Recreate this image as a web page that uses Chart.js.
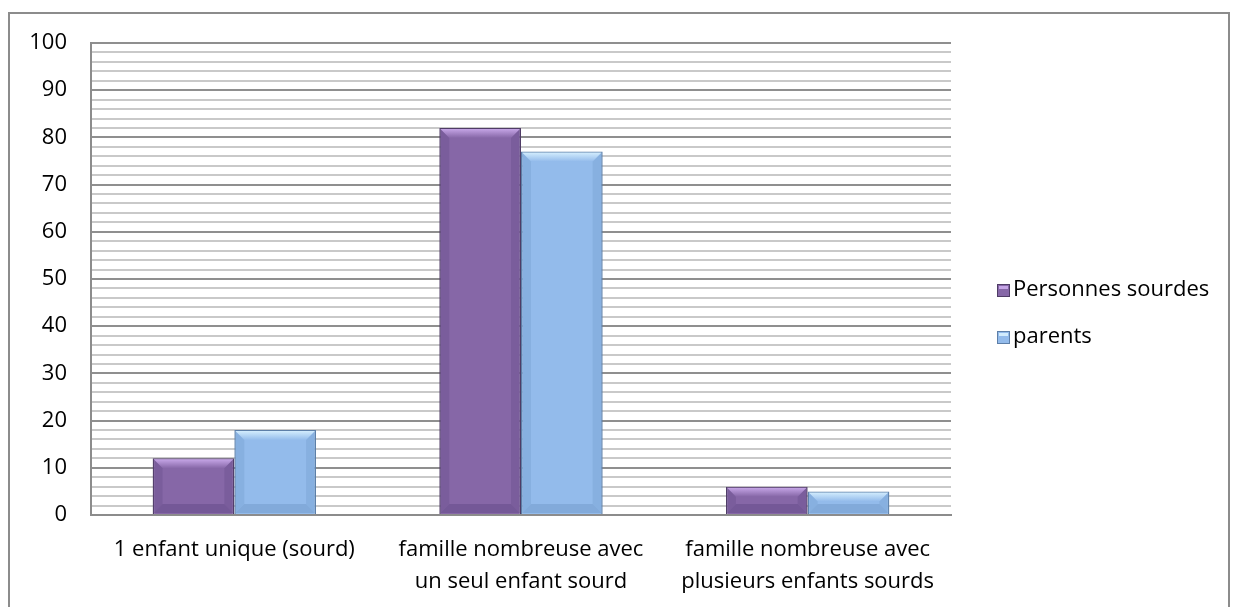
<!DOCTYPE html>
<html>
<head>
<meta charset="utf-8">
<script src="https://cdn.jsdelivr.net/npm/chart.js@4/dist/chart.umd.min.js"></script>
<style>
  html, body { margin: 0; padding: 0; background: #fff; }
  #wrap { position: relative; width: 1234px; height: 607px; overflow: hidden; }
  #frame { position: absolute; left: 8px; top: 12px; width: 1222px; height: 620px;
           border: 2px solid #8c8c8c; box-sizing: border-box; pointer-events: none; }
  canvas { position: absolute; left: 0; top: 0; }
</style>
</head>
<body>
<div id="wrap">
  <div id="frame"></div>
  <canvas id="chart" width="1234" height="607"></canvas>
</div>
<script>
// data
var categories = [
  '1 enfant unique (sourd)',
  ['famille nombreuse avec', 'un seul enfant sourd'],
  ['famille nombreuse avec', 'plusieurs enfants sourds']
];
var seriesNames = ['Personnes sourdes', 'parents'];
var sourdes = [12, 82, 6];
var parents = [18, 77, 5];
var yTicks = [0, 10, 20, 30, 40, 50, 60, 70, 80, 90, 100];

var fontFamily = '"Open Sans", "Noto Sans", sans-serif';
var fontSize = 22;
var fills = ['#8667a7', '#93bbeb'];
var edges = ['#4f3c66', '#5d7fa8'];
var lights = ['#c5a5e6', '#d2ecfd'];
var darks = ['#6c5290', '#7ba3d3'];

// fake the Excel bevel on each bar
var bevelPlugin = {
  id: 'bevel',
  afterDatasetsDraw: function(chart) {
    var ctx = chart.ctx;
    chart.data.datasets.forEach(function(ds, i) {
      var meta = chart.getDatasetMeta(i);
      meta.data.forEach(function(el) {
        var p = el.getProps(['x', 'y', 'base', 'width'], true);
        var l = p.x - p.width / 2 + 1, r = p.x + p.width / 2 - 1;
        var t = p.y + 1, b = p.base - 1;
        var s = Math.min(9, (b - t) / 2);
        ctx.save();
        // top
        var g = ctx.createLinearGradient(0, t, 0, t + s);
        g.addColorStop(0, lights[i]);
        g.addColorStop(1, fills[i]);
        ctx.fillStyle = g;
        ctx.beginPath();
        ctx.moveTo(l, t); ctx.lineTo(r, t); ctx.lineTo(r - s, t + s); ctx.lineTo(l + s, t + s);
        ctx.closePath(); ctx.fill();
        // sides
        ctx.fillStyle = darks[i];
        ctx.globalAlpha = 0.45;
        ctx.beginPath();
        ctx.moveTo(l, t); ctx.lineTo(l + s, t + s); ctx.lineTo(l + s, b - s); ctx.lineTo(l, b);
        ctx.closePath(); ctx.fill();
        ctx.beginPath();
        ctx.moveTo(r, t); ctx.lineTo(r - s, t + s); ctx.lineTo(r - s, b - s); ctx.lineTo(r, b);
        ctx.closePath(); ctx.fill();
        ctx.globalAlpha = 0.7;
        ctx.beginPath();
        ctx.moveTo(l, b); ctx.lineTo(l + s, b - s); ctx.lineTo(r - s, b - s); ctx.lineTo(r, b);
        ctx.closePath(); ctx.fill();
        ctx.restore();
      });
    });
  }
};

// legend on the right, as in the sheet
var sideLegend = {
  id: 'sideLegend',
  afterDraw: function(chart) {
    var ctx = chart.ctx;
    var x = 997, y0 = 290, gap = 47;
    ctx.save();
    ctx.font = fontSize + 'px ' + fontFamily;
    ctx.textBaseline = 'middle';
    chart.data.datasets.forEach(function(ds, i) {
      var y = y0 + i * gap;
      ctx.fillStyle = fills[i];
      ctx.fillRect(x, y - 6, 13, 13);
      ctx.fillStyle = lights[i];
      ctx.fillRect(x + 2, y - 4, 9, 3);
      ctx.strokeStyle = edges[i];
      ctx.lineWidth = 1;
      ctx.strokeRect(x + 0.5, y - 5.5, 12, 12);
      ctx.fillStyle = '#000';
      ctx.fillText(ds.label, x + 16, y);
    });
    ctx.restore();
  }
};

new Chart(document.getElementById('chart').getContext('2d'), {
  type: 'bar',
  data: {
    labels: categories,
    datasets: [
      { label: seriesNames[0], data: sourdes, backgroundColor: fills[0], borderColor: edges[0], borderWidth: 1.5 },
      { label: seriesNames[1], data: parents, backgroundColor: fills[1], borderColor: edges[1], borderWidth: 1.5 }
    ]
  },
  options: {
    responsive: false,
    animation: false,
    layout: { padding: { left: 0, top: 43, right: 283, bottom: 0 } },
    datasets: { bar: { categoryPercentage: 0.57, barPercentage: 1 } },
    plugins: { legend: { display: false }, tooltip: { enabled: false } },
    scales: {
      x: {
        grid: { display: false, drawTicks: false },
        border: { display: true, color: '#8c8c8c', width: 2 },
        ticks: { color: '#000', padding: 19, maxRotation: 0, autoSkip: false,
                 font: { family: fontFamily, size: fontSize, lineHeight: 1.45 } },
        afterFit: function(scale) { scale.height = 92; }
      },
      y: {
        min: 0,
        max: 100,
        grid: {
          drawTicks: false,
          lineWidth: 2,
          color: function(c) { return yTicks.indexOf(c.tick.value) >= 0 ? '#8f8f8f' : '#c9c9c9'; }
        },
        border: { display: true, color: '#8c8c8c', width: 2 },
        ticks: {
          color: '#000', padding: 24, stepSize: 2, maxTicksLimit: 60, autoSkip: false,
          font: { family: fontFamily, size: fontSize },
          callback: function(v) { return yTicks.indexOf(v) >= 0 ? String(v) : ''; }
        },
        afterFit: function(scale) { scale.width = 91; }
      }
    }
  },
  plugins: [bevelPlugin, sideLegend]
});
</script>
</body>
</html>
